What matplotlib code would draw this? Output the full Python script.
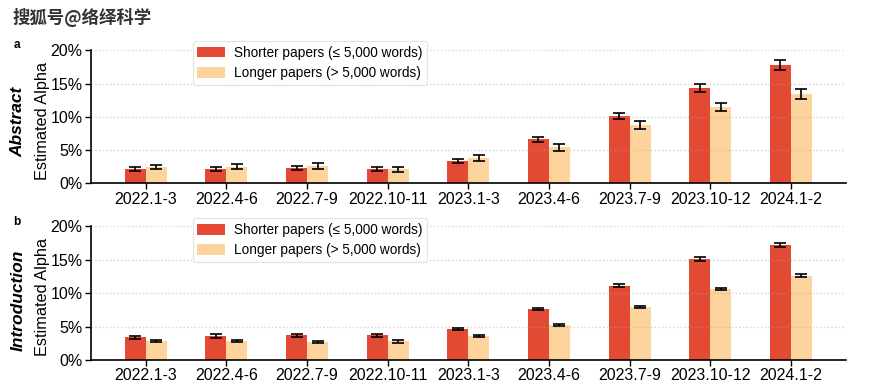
import numpy as np
import matplotlib
matplotlib.use("Agg")
import matplotlib.pyplot as plt
from matplotlib.ticker import PercentFormatter

# data (values in %)
periods = ["2022.1-3", "2022.4-6", "2022.7-9", "2022.10-11", "2023.1-3",
           "2023.4-6", "2023.7-9", "2023.10-12", "2024.1-2"]

abs_short = [2.1, 2.1, 2.3, 2.1, 3.3, 6.6, 10.1, 14.4, 17.8]
abs_short_err = [0.3, 0.3, 0.3, 0.3, 0.3, 0.4, 0.5, 0.6, 0.8]
abs_long = [2.5, 2.5, 2.6, 2.1, 3.8, 5.4, 8.7, 11.4, 13.5]
abs_long_err = [0.3, 0.4, 0.4, 0.4, 0.4, 0.5, 0.6, 0.6, 0.75]

intro_short = [3.4, 3.6, 3.7, 3.7, 4.6, 7.6, 11.1, 15.1, 17.2]
intro_short_err = [0.2, 0.25, 0.2, 0.25, 0.15, 0.15, 0.25, 0.25, 0.3]
intro_long = [2.85, 2.85, 2.7, 2.8, 3.6, 5.2, 8.0, 10.6, 12.6]
intro_long_err = [0.2, 0.2, 0.1, 0.2, 0.2, 0.15, 0.15, 0.15, 0.2]

red = "#e34a33"
beige = "#fdd49e"
plt.rcParams['font.family'] = ['Liberation Sans', 'DejaVu Sans']

fig = plt.figure(figsize=(8.73, 3.92), dpi=100)
ax1 = fig.add_axes([0.1042, 0.5324, 0.8645, 0.3393])
ax2 = fig.add_axes([0.1042, 0.0816, 0.8645, 0.341])

x = np.arange(len(periods))
w = 0.26

def draw(ax, short, short_err, long_, long_err, leg_y):
    ax.bar(x - w / 2, short, w, color=red, zorder=2,
           label="Shorter papers (≤ 5,000 words)")
    ax.bar(x + w / 2, long_, w, color=beige, zorder=2,
           label="Longer papers (> 5,000 words)")
    ax.errorbar(x - w / 2, short, yerr=short_err, fmt="none", ecolor="black",
                elinewidth=1.2, capsize=4, capthick=1.2, zorder=4)
    ax.errorbar(x + w / 2, long_, yerr=long_err, fmt="none", ecolor="black",
                elinewidth=1.2, capsize=4, capthick=1.2, zorder=4)
    ax.set_ylim(0, 20)
    ax.set_xlim(-0.68, len(periods) - 1 + 0.68)
    ax.set_yticks([0, 5, 10, 15, 20])
    ax.yaxis.set_major_formatter(PercentFormatter(decimals=0))
    ax.set_xticks(x)
    ax.set_xticklabels(periods)
    ax.tick_params(labelsize=11.5, length=4, width=1, pad=2)
    ax.yaxis.grid(True, linestyle=":", color="#aaaaaa", linewidth=1.0,
                  alpha=0.5, zorder=3)
    ax.set_axisbelow(False)
    for s in ["top", "right"]:
        ax.spines[s].set_visible(False)
    for s in ["left", "bottom"]:
        ax.spines[s].set_linewidth(1.2)
        ax.spines[s].set_zorder(5)
    leg = ax.legend(loc="upper left", bbox_to_anchor=(0.1347, leg_y),
                    borderaxespad=0, fontsize=9.8, frameon=True,
                    handlelength=2.0, handleheight=0.85, handletextpad=0.7,
                    borderpad=0.35, labelspacing=0.45)
    leg.get_frame().set_edgecolor("#dddddd")
    leg.get_frame().set_linewidth(0.8)
    leg.set_zorder(6)

draw(ax1, abs_short, abs_short_err, abs_long, abs_long_err, 1.07)
draw(ax2, intro_short, intro_short_err, intro_long, intro_long_err, 1.062)

# side labels
fig.text(42 / 873, 1 - 121 / 392, "Estimated Alpha", rotation=90,
         ha="center", va="center", fontsize=11.7)
fig.text(42 / 873, 1 - 297 / 392, "Estimated Alpha", rotation=90,
         ha="center", va="center", fontsize=11.7)
fig.text(18 / 873, 1 - 122 / 392, "Abstract", rotation=90, ha="center",
         va="center", fontsize=12.5, fontweight="bold", style="italic")
fig.text(18 / 873, 1 - 300 / 392, "Introduction", rotation=90, ha="center",
         va="center", fontsize=12.5, fontweight="bold", style="italic")
fig.text(17 / 873, 1 - 45 / 392, "a", ha="center", va="center",
         fontsize=8.5, fontweight="bold")
fig.text(17 / 873, 1 - 222 / 392, "b", ha="center", va="center",
         fontsize=8.5, fontweight="bold")

# watermark
fig.text(13 / 873, 1 - 17 / 392, "搜狐号@络绎科学", ha="left", va="center",
         fontsize=12.5, color="#333333", fontweight="bold",
         family=["Noto Sans CJK SC", "DejaVu Sans"])

fig.savefig("out.png", dpi=100)
